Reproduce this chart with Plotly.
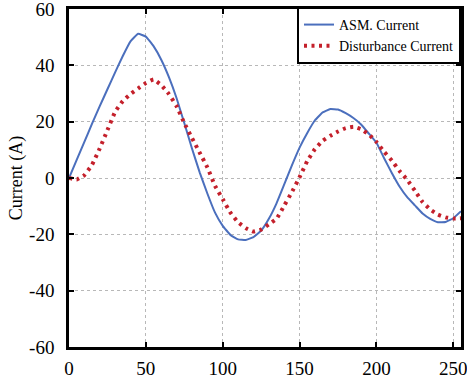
import plotly.graph_objects as go

x_vals = [0, 5, 10, 15, 20, 25, 30, 35, 40, 45, 50, 55, 60, 65, 70, 75, 80, 85, 90, 95,
          100, 105, 110, 115, 120, 125, 130, 135, 140, 145, 150, 155, 160, 165, 170, 175,
          180, 185, 190, 195, 200, 205, 210, 215, 220, 225, 230, 235, 240, 245, 250, 255]

asm_current = [0, 6.4, 12.8, 19.3, 25.5, 31.5, 37.5, 43.3, 48.5, 51.2, 50.2, 46.8, 42, 35.8,
               28.3, 19.5, 10.5, 2, -5.5, -12.3, -17, -20.2, -21.8, -22, -21, -18.7, -14.5,
               -9, -2.3, 4.5, 10.8, 16, 20.5, 23.3, 24.5, 24.3, 23, 21.3, 19, 15.8, 12.5, 7,
               1.8, -3, -6.8, -9.7, -12.6, -14.5, -15.7, -15.6, -14.3, -11.8]

disturbance_current = [0, -0.5, 1, 4.7, 10.5, 17, 23.5, 27.3, 29.8, 31.8, 33.7, 35, 33,
                       29.8, 25.5, 19.5, 14.2, 9, 3.8, -2.8, -7.5, -12.3, -15.7, -17.8, -19,
                       -18.3, -16.5, -14.5, -9.8, -5, 0.3, 6, 10.3, 13.2, 15, 16.5, 17.7,
                       18.2, 17.3, 15.5, 12.8, 9.3, 6.2, 2.5, -0.6, -4.5, -8.5, -11.2, -13,
                       -14, -14.4, -14.3]

x_ticks = [0, 50, 100, 150, 200, 250]
x_tick_labels = ["0", "50", "100", "150", "200", "250"]
y_ticks = [60, 40, 20, 0, -20, -40, -60]
y_tick_labels = ["60", "40", "20", "0", "-20", "-40", "-60"]

serif = "Liberation Serif"

fig = go.Figure()
fig.add_trace(go.Scatter(
    x=x_vals, y=asm_current, mode="lines", name="ASM. Current",
    line=dict(color="#4b6fbd", width=2, shape="spline", smoothing=0.3),
))
fig.add_trace(go.Scatter(
    x=x_vals, y=disturbance_current, mode="lines", name="Disturbance Current",
    line=dict(color="#c4202b", width=4, dash="3px,4.5px", shape="spline", smoothing=0.3),
))

axis_common = dict(
    showline=True, linecolor="black", linewidth=2.5, mirror="ticks",
    ticks="inside", ticklen=5, tickwidth=2, tickcolor="black",
    showgrid=True, gridcolor="#b8b8b8", gridwidth=1, griddash="dot",
    zeroline=False, automargin=False, ticklabeloverflow="allow",
    tickfont=dict(family=serif, size=19, color="black"),
)

fig.update_layout(
    template="none",
    width=467, height=381,
    margin=dict(l=69, r=6, t=9, b=34),
    paper_bgcolor="white", plot_bgcolor="white",
    xaxis=dict(range=[0, 255], tickvals=x_ticks, ticktext=x_tick_labels,
               ticklabelstandoff=2, **axis_common),
    yaxis=dict(range=[-60, 60], tickvals=y_ticks, ticktext=y_tick_labels,
               ticklabelstandoff=8,
               title=dict(text="Current (A)", font=dict(family=serif, size=18, color="black"),
                          standoff=2),
               **axis_common),
    legend=dict(
        x=1, xanchor="right", y=1.006, yanchor="top",
        bgcolor="white", bordercolor="black", borderwidth=2,
        font=dict(family=serif, size=14, color="black"),
        tracegroupgap=0, itemwidth=30,
    ),
    showlegend=True,
)

fig.write_html("out.html")
